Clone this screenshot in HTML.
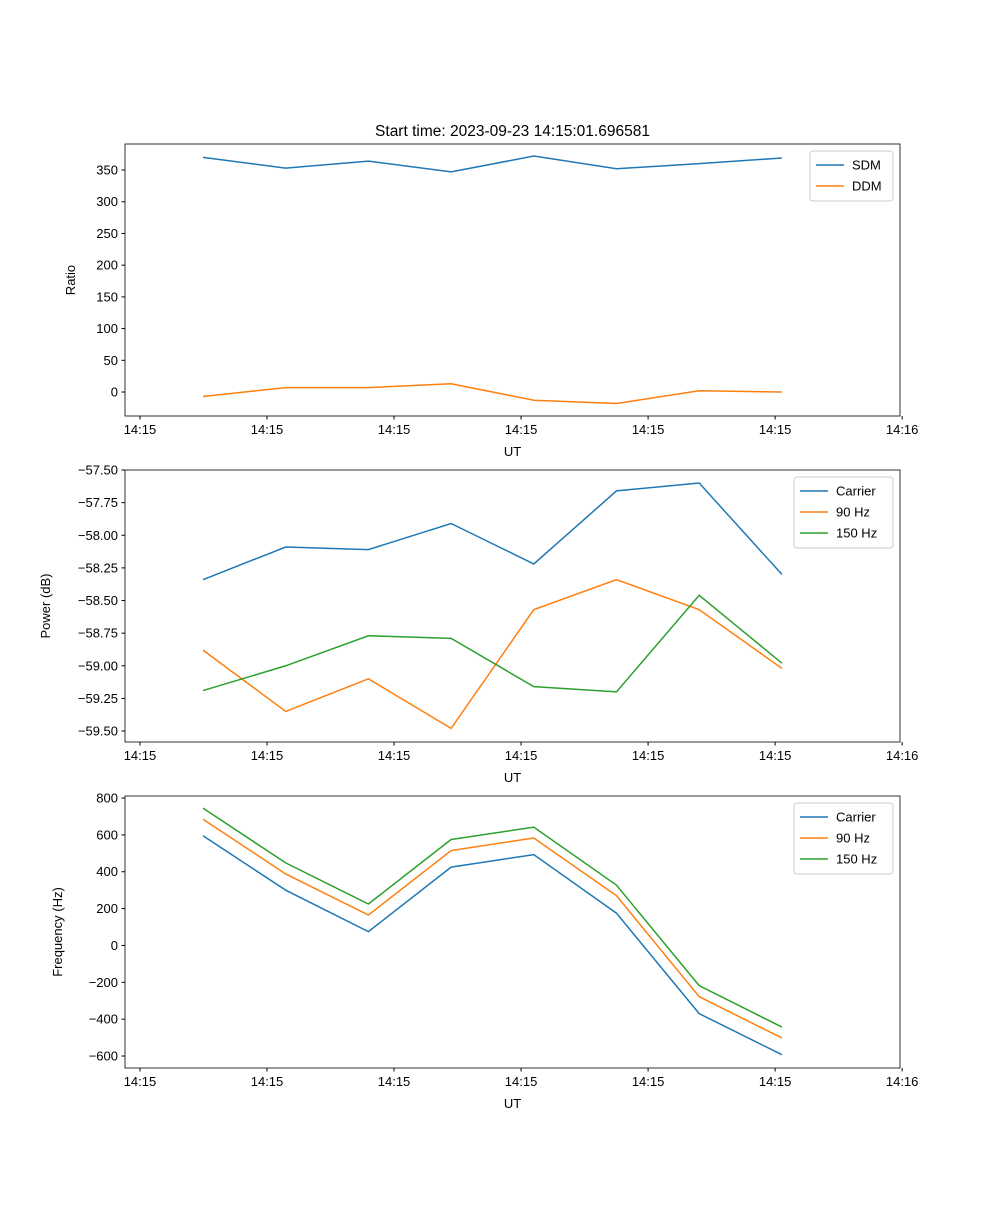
<!DOCTYPE html>
<html><head><meta charset="utf-8"><style>
body{margin:0;background:#fff}
svg text{font-family:"Liberation Sans","DejaVu Sans",sans-serif;fill:#000}
</style></head><body>
<svg id="c" width="1000" height="1200" xmlns="http://www.w3.org/2000/svg"></svg>
<script>
const timeIdx=[0,1,2,3,4,5,6,7];
const xTickVals=[-0.762,0.774,2.31,3.846,5.382,6.918,8.454];
const xTickLabels=["14:15","14:15","14:15","14:15","14:15","14:15","14:16"];
const sdm=[370,353,364,347,372,352,360,369];
const ddm=[-7,7,7,13,-13,-18,2,0];
const pwrCarrier=[-58.34,-58.09,-58.11,-57.91,-58.22,-57.66,-57.60,-58.30];
const pwr90=[-58.88,-59.35,-59.10,-59.48,-58.57,-58.34,-58.57,-59.02];
const pwr150=[-59.19,-59.00,-58.77,-58.79,-59.16,-59.20,-58.46,-58.98];
const frqCarrier=[595,300,75,425,493,175,-370,-593];
const frq90=[685,388,165,515,583,270,-278,-502];
const frq150=[745,448,225,575,642,327,-218,-443];
const ticks1=[0,50,100,150,200,250,300,350];
const ticks2=[-59.5,-59.25,-59.0,-58.75,-58.5,-58.25,-58.0,-57.75,-57.5];
const ticks3=[-600,-400,-200,0,200,400,600,800];
const C=['#1f77b4','#ff7f0e','#2ca02c'];
const svg=document.getElementById('c');const NS='http://www.w3.org/2000/svg';
function el(t,a,p){const e=document.createElementNS(NS,t);for(const k in a)e.setAttribute(k,a[k]);(p||svg).appendChild(e);return e;}
const L=125,R=900;
function xs(v){return 203+(v-0)*82.7;}
function panel(name,top,bot,ymin,ymax,yt,fmt,ylabel,series,names,legW,yOff){
 const g=el('g',{});
 
 
 const ys=v=>bot-(v-ymin)/(ymax-ymin)*(bot-top);
 series.forEach((s,i)=>{
  const p=el('polyline',{points:s.map((v,j)=>xs(timeIdx[j])+','+ys(v)).join(' '),fill:'none',stroke:C[i],'stroke-width':1.5},g);
  
  
 });
 el('rect',{x:L,y:top,width:R-L,height:bot-top,fill:'none',stroke:'#000','stroke-width':0.8},g);
 xTickVals.forEach((v,i)=>{const x=xs(v);el('line',{x1:x,x2:x,y1:bot,y2:bot+3.5,stroke:'#000'},g);
  const t=el('text',{x:x,y:bot+18,'text-anchor':'middle','font-size':13},g);t.textContent=xTickLabels[i];
  });
 yt.forEach(v=>{const y=ys(v);el('line',{x1:L-3.5,x2:L,y1:y,y2:y,stroke:'#000'},g);
  const t=el('text',{x:L-7,y:y+4.5,'text-anchor':'end','font-size':13},g);t.textContent=fmt(v);
  });
 const xl=el('text',{x:(L+R)/2,y:bot+40,'text-anchor':'middle','font-size':13},g);xl.textContent='UT';
 
 const yx=L-yOff;
 const yl=el('text',{x:yx,y:(top+bot)/2,'text-anchor':'middle','font-size':13,transform:`rotate(-90 ${yx} ${(top+bot)/2})`},g);yl.textContent=ylabel;
 
 const lg=el('g',{},g);
 const lx=R-7-legW,ly=top+7,h=names.length*21+8;
 el('rect',{x:lx,y:ly,width:legW,height:h,fill:'#fff',stroke:'#ccc',rx:3},lg);
 names.forEach((n,i)=>{const yy=ly+14+i*21;el('line',{x1:lx+6,x2:lx+34,y1:yy,y2:yy,stroke:C[i],'stroke-width':1.5},lg);
  const t=el('text',{x:lx+42,y:yy+4.5,'font-size':13},lg);t.textContent=n;
  });
}
const tt=el('text',{x:512.5,y:136,'text-anchor':'middle','font-size':15.5});tt.textContent='Start time: 2023-09-23 14:15:01.696581';

panel('ratio',144,416,-37.8,391,ticks1,v=>String(v),'Ratio',[sdm,ddm],['SDM','DDM'],83,50);
panel('power',470,742,-59.584,-57.5,ticks2,v=>'\u2212'+Math.abs(v).toFixed(2),'Power (dB)',[pwrCarrier,pwr90,pwr150],['Carrier','90 Hz','150 Hz'],99,75);
panel('frequency',796,1068,-665,811,ticks3,v=>v<0?'\u2212'+Math.abs(v):String(v),'Frequency (Hz)',[frqCarrier,frq90,frq150],['Carrier','90 Hz','150 Hz'],99,63);
</script>
</body></html>
